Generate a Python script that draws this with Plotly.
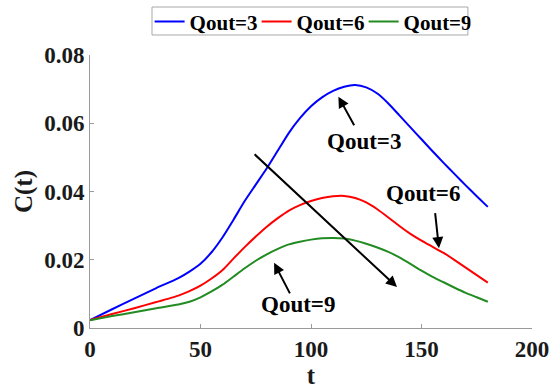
import plotly.graph_objects as go

t = [0, 10, 20, 30, 40, 45, 50, 55, 60, 65, 70, 75, 80, 85, 90, 95, 100, 105, 110,
     115, 120, 125, 130, 135, 140, 145, 150, 155, 160, 165, 170, 175, 180]

c_q3 = [0.0023, 0.0055, 0.0086, 0.0117, 0.0146, 0.0165, 0.0188, 0.0222, 0.0266, 0.0318,
        0.0372, 0.0420, 0.0468, 0.0520, 0.0572, 0.0615, 0.0650, 0.0676, 0.0695, 0.0707,
        0.0712, 0.0705, 0.0687, 0.0658, 0.0623, 0.0588, 0.0553, 0.0518, 0.0484, 0.0451,
        0.0418, 0.0386, 0.0355]

c_q6 = [0.0023, 0.0041, 0.0058, 0.0076, 0.0095, 0.0108, 0.0124, 0.0145, 0.0170, 0.0204,
        0.0237, 0.0268, 0.0297, 0.0322, 0.0344, 0.0360, 0.0372, 0.0381, 0.0386, 0.0387,
        0.0381, 0.0368, 0.0348, 0.0324, 0.0299, 0.0276, 0.0256, 0.0238, 0.0220, 0.0199,
        0.0177, 0.0155, 0.0133]

c_q9 = [0.0023, 0.0035, 0.0046, 0.0058, 0.0069, 0.0077, 0.0090, 0.0107, 0.0127, 0.0151,
        0.0175, 0.0197, 0.0216, 0.0232, 0.0245, 0.0253, 0.0259, 0.0263, 0.0264, 0.0262,
        0.0256, 0.0247, 0.0236, 0.0223, 0.0207, 0.0188, 0.0168, 0.0150, 0.0134, 0.0118,
        0.0103, 0.0090, 0.0077]

series_names = ["Qout=3", "Qout=6", "Qout=9"]
series_colors = ["#0000ff", "#ff0000", "#228b22"]

x_ticks = [0, 50, 100, 150, 200]
y_ticks = [0, 0.02, 0.04, 0.06, 0.08]
y_tick_labels = ["0", "0.02", "0.04", "0.06", "0.08"]

# annotation labels: (text, x, y)
labels = [("Qout=3", 124, 0.0548), ("Qout=6", 150.7, 0.0393), ("Qout=9", 93.9, 0.0070)]
# arrows: (tail_x, tail_y, head_x, head_y)
arrows = [(119.9, 0.0590, 112.4, 0.0678),
          (156.1, 0.0341, 157.9, 0.0234),
          (90.8, 0.0097, 83.3, 0.0191),
          (73.8, 0.0513, 138.9, 0.0120)]

FONT = "Liberation Serif"
AX = "#9a9a9a"
TXT = "#1a1a1a"

fig = go.Figure()
for name, col, ys in zip(series_names, series_colors, [c_q3, c_q6, c_q9]):
    fig.add_trace(go.Scatter(x=t, y=ys, mode="lines", name="<b>" + name + "</b>",
                             line=dict(color=col, width=2, shape="spline", smoothing=0.6)))

for txt, x, y in labels:
    fig.add_annotation(x=x, y=y, xref="x", yref="y", text="<b>" + txt + "</b>", showarrow=False,
                       font=dict(family=FONT, size=23, color="black"))

for tx, ty, hx, hy in arrows:
    fig.add_annotation(x=hx, y=hy, ax=tx, ay=ty, xref="x", yref="y", axref="x", ayref="y",
                       text="", showarrow=True, arrowhead=2, arrowsize=1.1, arrowwidth=2,
                       arrowcolor="black", standoff=0, startstandoff=0)

# legend frame (MATLAB-style tight box)
fig.add_shape(type="rect", xref="paper", yref="paper", x0=0.1403, x1=0.855, y0=1.0733, y1=1.1758,
              line=dict(color="#a8a8a8", width=1), fillcolor="rgba(0,0,0,0)", layer="below")

fig.update_layout(
    width=556, height=389,
    margin=dict(l=90, r=24, t=55, b=61, autoexpand=False),
    paper_bgcolor="white", plot_bgcolor="white",
    font=dict(family=FONT, color=TXT),
    showlegend=True,
    legend=dict(orientation="h", x=0.498, xanchor="center", y=1.121, yanchor="middle",
                borderwidth=0, bgcolor="rgba(0,0,0,0)",
                font=dict(family=FONT, size=21, color="black"),
                itemwidth=30, tracegroupgap=0, entrywidth=62, entrywidthmode="pixels"),
    xaxis=dict(range=[0, 200], tickvals=x_ticks, ticktext=["<b>%d</b>" % v for v in x_ticks],
               showgrid=False, zeroline=False, automargin=False,
               showline=True, linecolor=AX, linewidth=1, ticks="inside", ticklen=4,
               tickcolor=AX, tickfont=dict(family=FONT, size=23, color=TXT),
               title=dict(text="<b>t</b>", font=dict(family=FONT, size=25, color=TXT),
                          standoff=4)),
    yaxis=dict(range=[0, 0.08], tickvals=y_ticks, ticktext=["<b>%s</b>" % s for s in y_tick_labels],
               showgrid=False, automargin=False,
               zeroline=False, showline=True, linecolor=AX, linewidth=1, ticks="inside",
               ticklen=4, tickcolor=AX,
               tickfont=dict(family=FONT, size=23, color=TXT),
               title=dict(text="<b>C(t)</b>", font=dict(family=FONT, size=25, color=TXT),
                          standoff=4)),
)

fig.write_html("out.html", config={"displayModeBar": False},
               post_script="document.body.style.margin='0';document.body.style.padding='0';")
